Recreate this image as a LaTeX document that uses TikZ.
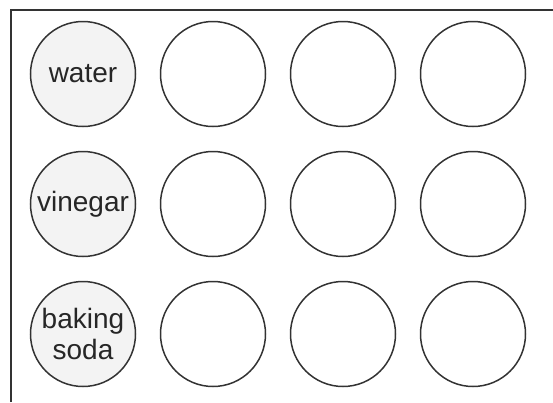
\documentclass[tikz,border=0pt]{standalone}
\usepackage{fontspec}
\setmainfont{Liberation Sans}
\usepackage{tikz}
\usetikzlibrary{positioning}
\definecolor{traitgris}{RGB}{51,51,51}
\definecolor{fondcup}{RGB}{243,243,243}

\begin{document}
\begin{tikzpicture}[
    x=1pt, y=-1pt,
    cup/.style={
        draw=traitgris,
        circle,
        line width=1.5pt,
        minimum size=105pt,
        inner sep=0pt,
        align=center,
        font=\fontsize{28}{31}\selectfont,
        text=black!85
    },
    filled/.style={cup, fill=fondcup},
    frame/.style={draw=traitgris, line width=2pt}
]
\useasboundingbox (0,0) rectangle (553,402);

% === Cadre ===
\coordinate (topright) at (553,10);
\coordinate (corner) at (11,10);
\coordinate (bottomleft) at (11,402);
\draw[frame] (bottomleft) -- (corner) -- (topright);

% === Ligne 1 ===
\node[filled] (water) at (83,74) {water};
\node[cup] (water2) at (213,74) {};
\node[cup] (water3) at (343,74) {};
\node[cup] (water4) at (473,74) {};

% === Ligne 2 ===
\node[filled] (vinegar) at (83,204) {vinegar};
\node[cup] (vinegar2) at (213,204) {};
\node[cup] (vinegar3) at (343,204) {};
\node[cup] (vinegar4) at (473,204) {};

% === Ligne 3 ===
\node[filled] (soda) at (83,334) {baking\\soda};
\node[cup] (soda2) at (213,334) {};
\node[cup] (soda3) at (343,334) {};
\node[cup] (soda4) at (473,334) {};

\end{tikzpicture}
\end{document}
